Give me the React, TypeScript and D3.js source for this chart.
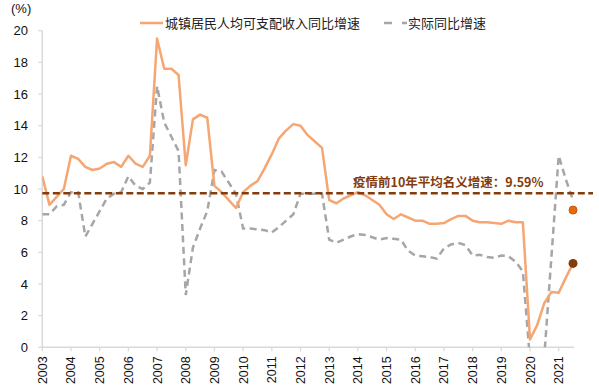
import React from "react";
import * as d3 from "d3";

const years = ["2003","2004","2005","2006","2007","2008","2009","2010","2011","2012","2013","2014","2015","2016","2017","2018","2019","2020","2021"];

// quarterly index 0..74, index 0 = 2003 tick
const nominal = [
  10.8, 9.0, 9.5, 10.0, 12.1, 11.9, 11.4, 11.2, 11.3, 11.6,
  11.7, 11.4, 12.1, 11.6, 11.4, 12.1, 19.5, 17.6, 17.6, 17.2,
  11.5, 14.4, 14.7, 14.5, 10.2, 9.8, 9.3, 8.8, 9.8, 10.2,
  10.5, 11.3, 12.2, 13.2, 13.7, 14.1, 14.0, 13.4, 13.0, 12.6,
  9.3, 9.1, 9.4, 9.6, 9.8, 9.6, 9.3, 9.0, 8.4, 8.1,
  8.4, 8.2, 8.0, 8.0, 7.8, 7.8, 7.85, 8.1, 8.3, 8.3,
  8.0, 7.9, 7.9, 7.85, 7.8, 8.0, 7.9, 7.9, 0.5, 1.4,
  2.8, 3.5, 3.45, 4.4, 5.3
];

const real = [
  8.4, 8.4, 8.9, 9.0, 9.8, 9.8, 7.0, 7.8, 8.6, 9.4,
  9.7, 9.8, 10.8, 10.2, 10.0, 10.4, 16.5, 14.2, 13.3, 12.4,
  3.3, 6.3, 7.5, 8.6, 11.2, 11.1, 10.4, 9.7, 7.5, 7.5,
  7.45, 7.4, 7.25, 7.6, 8.0, 8.4, 9.7, 9.7, 9.7, 9.7,
  6.8, 6.6, 6.8, 7.0, 7.15, 7.1, 6.95, 6.8, 6.9, 6.85,
  6.8, 6.1, 5.8, 5.75, 5.7, 5.6, 6.25, 6.5, 6.6, 6.45,
  5.8, 5.85, 5.7, 5.65, 5.8, 5.75, 5.4, 4.8, -0.8, -2.0,
  -0.5, 5.8, 12.1, 10.6, 9.3
];

const yTicks = [0, 2, 4, 6, 8, 10, 12, 14, 16, 18, 20];
const avgLineValue = 9.73;
const avgLabel = "疫情前10年平均名义增速：9.59%";
const dotNominal = 8.67;
const dotReal = 5.3;
const dotIndex = 74;
const legendNominal = "城镇居民人均可支配收入同比增速";
const legendReal = "实际同比增速";

const W = 599;
const H = 387;
const left = 42.3;
const top = 30.7;
const bottom = 347.3;

export default function App() {
  const x = d3.scaleLinear().domain([0, 72]).range([left, 558.7]);
  const y = d3.scaleLinear().domain([0, 20]).range([bottom, top]);
  const line = d3
    .line<number>()
    .x((_, i) => x(i))
    .y((d) => y(d));
  const axisRight = 574;
  const cjk = "'Liberation Sans', Arial, 'Noto Sans CJK SC', sans-serif";

  return (
    <svg
      width={W}
      height={H}
      style={{ position: "absolute", left: 0, top: 0, background: "#fff" }}
      fontFamily={cjk}
    >
      <defs>
        <clipPath id="plotClip">
          <rect x={left} y={0} width={W - left} height={bottom - 0} />
        </clipPath>
      </defs>

      {/* y axis */}
      <line x1={left} x2={left} y1={top} y2={bottom} stroke="#d9d9d9" strokeWidth={1.5} />
      {yTicks.map((t) => (
        <g key={t}>
          <line x1={left - 4} x2={left} y1={y(t)} y2={y(t)} stroke="#d9d9d9" strokeWidth={1.2} />
          <text x={28} y={y(t)} dy="0.36em" textAnchor="end" fontSize={13} fill="#111">
            {t}
          </text>
        </g>
      ))}
      <text x={11} y={13} fontSize={13} fill="#111">(%)</text>

      {/* x axis */}
      <line x1={left} x2={axisRight} y1={bottom} y2={bottom} stroke="#d9d9d9" strokeWidth={1.5} />
      {years.map((yr, k) => {
        const xx = x(k * 4);
        return (
          <g key={yr}>
            <line x1={xx} x2={xx} y1={bottom} y2={bottom + 4} stroke="#d9d9d9" strokeWidth={1.2} />
            <text
              transform={`translate(${xx},${bottom + 9}) rotate(-90)`}
              textAnchor="end"
              dy="0.36em"
              fontSize={12.5}
              fill="#111"
            >
              {yr}
            </text>
          </g>
        );
      })}

      <g clipPath="url(#plotClip)">
        <path
          d={line(real) || ""}
          fill="none"
          stroke="#a6a6a6"
          strokeWidth={2.5}
          strokeDasharray="7,4.5"
        />
        <path d={line(nominal) || ""} fill="none" stroke="#f5a673" strokeWidth={2.5} strokeLinejoin="round" />
      </g>

      {/* average line */}
      <line
        x1={left}
        x2={593}
        y1={y(avgLineValue)}
        y2={y(avgLineValue)}
        stroke="#843c0c"
        strokeWidth={2.5}
        strokeDasharray="7,3.5"
      />
      <text
        x={353}
        y={187}
        fontSize={12.5}
        fontWeight="bold"
        fill="#843c0c"
        fontFamily="'Noto Sans CJK SC', sans-serif"
      >
        {avgLabel}
      </text>

      {/* dots */}
      <circle cx={x(dotIndex)} cy={y(dotNominal)} r={4} fill="#e46c0a" stroke="#c55a11" strokeWidth={1} />
      <circle cx={x(dotIndex)} cy={y(dotReal)} r={4.5} fill="#843c0c" />

      {/* legend */}
      <line x1={140} x2={163} y1={23} y2={23} stroke="#f5a673" strokeWidth={2.5} />
      <text x={165} y={23} dy="0.36em" fontSize={13} fill="#222" fontFamily="'Noto Sans CJK SC', sans-serif">
        {legendNominal}
      </text>
      <line x1={384} x2={407} y1={23} y2={23} stroke="#a6a6a6" strokeWidth={2.5} strokeDasharray="8,10" />
      <text x={408} y={23} dy="0.36em" fontSize={13} fill="#222" fontFamily="'Noto Sans CJK SC', sans-serif">
        {legendReal}
      </text>
    </svg>
  );
}
